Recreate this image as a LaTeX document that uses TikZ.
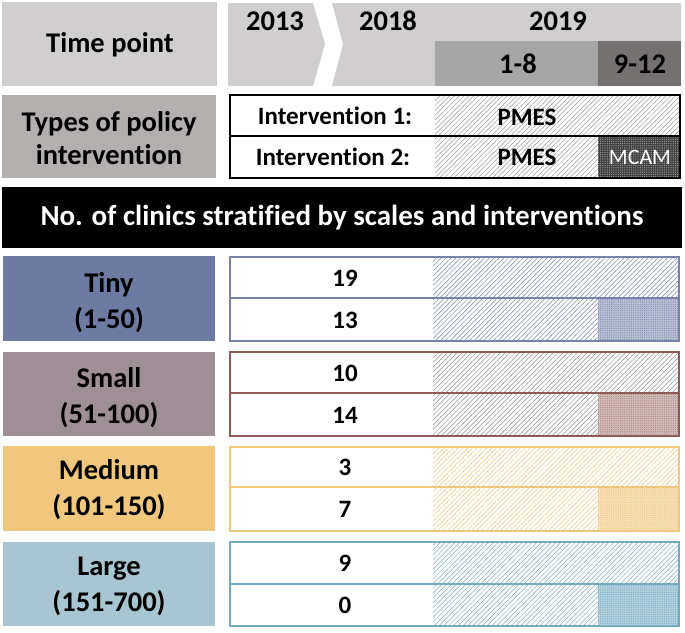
\documentclass[tikz,border=0pt]{standalone}
\usepackage{fontspec}
\setmainfont{Carlito}[Ligatures=NoCommon]
\usetikzlibrary{patterns.meta}

\definecolor{tpgray}{HTML}{D0CECE}
\definecolor{polgray}{HTML}{B3AFAF}
\definecolor{earlygray}{HTML}{A6A6A6}
\definecolor{lategray}{HTML}{767171}
\definecolor{tinyfill}{HTML}{6D7BA3}
\definecolor{tinyline}{HTML}{7783AA}
\definecolor{smallfill}{HTML}{9E8E95}
\definecolor{smallline}{HTML}{8E5A55}
\definecolor{medfill}{HTML}{F0C77C}
\definecolor{medline}{HTML}{F0C77C}
\definecolor{largefill}{HTML}{A8C6D2}
\definecolor{largeline}{HTML}{74ABC2}

\tikzset{
  lbl/.style={font=\bfseries\fontsize{28.5}{36}\selectfont, align=center, inner sep=0pt},
  num/.style={font=\bfseries\fontsize{25}{29}\selectfont, inner sep=0pt},
  hatch/.style={pattern={Lines[angle=45,distance=3.4pt,line width=0.5pt]}},
  griddots/.style={pattern={Dots[distance=2.2pt,radius=0.6pt]}},
  boxline/.style={line width=1.6pt}
}

\begin{document}
\begin{tikzpicture}[x=1pt,y=-1pt]
\useasboundingbox[fill=white] (0,0) rectangle (685,632);

% time point
\fill[tpgray] (2,2) rectangle (217,86);
\node[lbl] (tp) at (110,45) {Time point};
\fill[tpgray] (228,3) -- (313,3) -- (325,44) -- (313,86) -- (228,86) -- cycle;
\node[lbl] (y2013) at (275,21) {2013};
\fill[tpgray] (332,3) -- (681,3) -- (681,86) -- (332,86) -- (343,44) -- cycle;
\node[lbl] (y2018) at (388,21) {2018};
\node[lbl] (y2019) at (558,21) {2019};
\fill[earlygray] (435,41) rectangle (598,86);
\fill[lategray] (598,41) rectangle (681,86);
\node[lbl] (m1to8) at (518,64) {1-8};
\node[lbl] (m9to12) at (640,64) {9-12};

% policy intervention
\fill[polgray] (2,95) rectangle (216,178);
\node[lbl, font=\bfseries\fontsize{28.5}{33}\selectfont] (policy) at (109,138) {Types of policy\\intervention};
\path[hatch, pattern color=gray!80] (435,95) rectangle (680,178);
\fill[black!75] (598,136) rectangle (680,178);
\path[griddots, pattern color=gray!70] (598,136) rectangle (680,178);
\draw[boxline] (230,95) rectangle (680,178);
\draw[boxline] (230,136) -- (680,136);
\node[num] (int1) at (335,116) {Intervention 1:};
\node[num] (pmes1) at (527,117) {PMES};
\node[num] (int2) at (333,157) {Intervention 2:};
\node[num] (pmes2) at (527,157) {PMES};
\node[font=\fontsize{22}{24}\selectfont, white, inner sep=0pt] (mcam) at (640,157) {MCAM};

% banner
\fill[black] (2,187) rectangle (682,248);
\node[lbl, white, font=\bfseries\fontsize{29}{33}\selectfont] (banner) at (342,218) {No. of clinics stratified by scales and interventions};

% tiny
\fill[tinyfill] (3,256) rectangle (215,341);
\node[lbl] (tiny) at (109,303) {Tiny\\(1-50)};
\path[hatch, pattern color=tinyline] (433,257) rectangle (679,341);
\fill[tinyline!50] (598,298) rectangle (679,341);
\path[griddots, pattern color=tinyline] (598,298) rectangle (679,341);
\draw[boxline, tinyline] (230,257) rectangle (679,341);
\draw[boxline, tinyline] (230,298) -- (679,298);
\node[num] (tiny1) at (345,278) {19};
\node[num] (tiny2) at (345,320) {13};

% small
\fill[smallfill] (3,352) rectangle (215,436);
\node[lbl] (small) at (109,398) {Small\\(51-100)};
\path[hatch, pattern color=gray!90] (433,352) rectangle (679,436);
\fill[smallline!40] (598,393) rectangle (679,436);
\path[griddots, pattern color=smallline!80] (598,393) rectangle (679,436);
\draw[boxline, smallline] (230,352) rectangle (679,436);
\draw[boxline, smallline] (230,393) -- (679,393);
\node[num] (small1) at (345,373) {10};
\node[num] (small2) at (345,415) {14};

% medium
\fill[medfill] (3,446) rectangle (215,531);
\node[lbl] (medium) at (109,490) {Medium\\(101-150)};
\path[hatch, pattern color=medline] (433,447) rectangle (679,531);
\fill[medline!55] (598,487) rectangle (679,531);
\path[griddots, pattern color=medline] (598,487) rectangle (679,531);
\draw[boxline, medline] (230,447) rectangle (679,531);
\draw[boxline, medline] (230,487) -- (679,487);
\node[num] (medium1) at (345,467) {3};
\node[num] (medium2) at (345,509) {7};

% large
\fill[largefill] (3,542) rectangle (215,626);
\node[lbl] (large) at (109,586) {Large\\(151-700)};
\path[hatch, pattern color=largeline] (433,542) rectangle (679,626);
\fill[largeline!55] (598,584) rectangle (679,626);
\path[griddots, pattern color=largeline] (598,584) rectangle (679,626);
\draw[boxline, largeline] (230,542) rectangle (679,626);
\draw[boxline, largeline] (230,584) -- (679,584);
\node[num] (large1) at (345,563) {9};
\node[num] (large2) at (345,605) {0};
\end{tikzpicture}
\end{document}
